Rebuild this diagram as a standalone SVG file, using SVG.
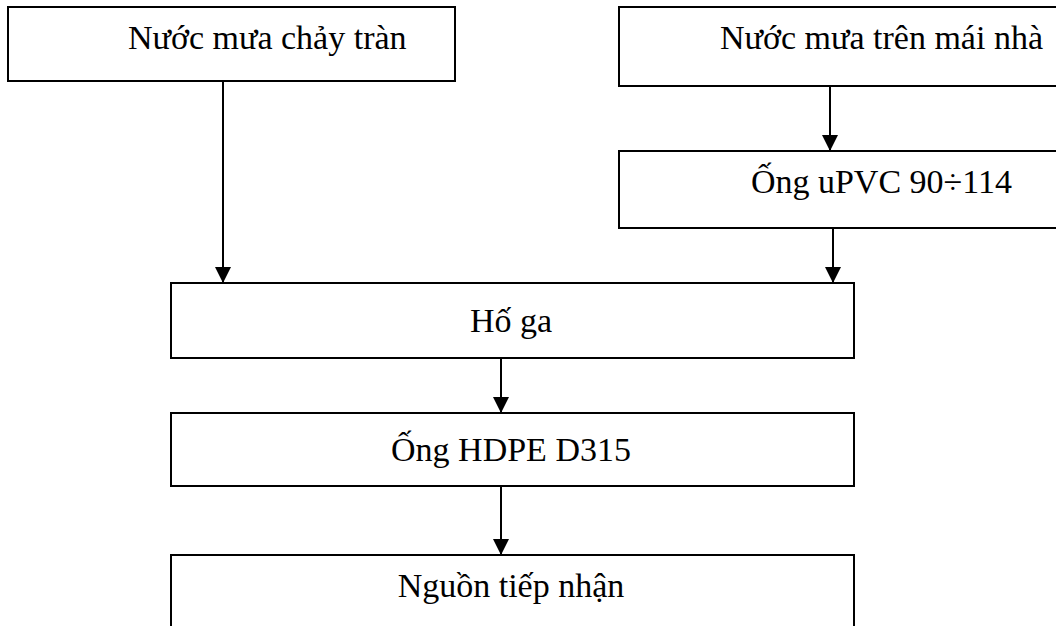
<svg xmlns="http://www.w3.org/2000/svg" width="1056" height="626" viewBox="0 0 1056 626">
  <style>
    .box { fill: #ffffff; stroke: #000000; stroke-width: 2; }
    .lbl { font-family: "Liberation Serif", "Times New Roman", serif; font-size: 34px; fill: #000000; }
    .mid { text-anchor: middle; }
    .end { text-anchor: end; }
    .conn { stroke: #000000; stroke-width: 2; fill: none; marker-end: url(#arrow); }
  </style>
  <defs>
    <marker id="arrow" viewBox="0 0 10 10" refX="10" refY="5" markerWidth="16" markerHeight="16" markerUnits="userSpaceOnUse" orient="auto">
      <path d="M0,0 L10,5 L0,10 z" fill="#000000"/>
    </marker>
  </defs>
  <rect width="1056" height="626" fill="#ffffff"/>

  <g id="connectors">
    <line class="conn" x1="223" y1="81" x2="223" y2="283"/>
    <line class="conn" x1="830" y1="86" x2="830" y2="151"/>
    <line class="conn" x1="833" y1="228" x2="833" y2="283"/>
    <line class="conn" x1="501" y1="358" x2="501" y2="413"/>
    <line class="conn" x1="501" y1="486" x2="501" y2="555"/>
  </g>

  <g id="nuoc-mua-chay-tran">
    <rect class="box" x="8" y="7" width="447" height="74"/>
    <text class="lbl" x="128" y="49">Nước mưa chảy tràn</text>
  </g>

  <g id="nuoc-mua-mai-nha">
    <rect class="box" x="619" y="7" width="530" height="79"/>
    <text class="lbl end" x="1043" y="49">Nước mưa trên mái nhà</text>
  </g>

  <g id="ong-upvc">
    <rect class="box" x="619" y="151" width="530" height="77"/>
    <text class="lbl end" x="1012" y="193">Ống uPVC 90÷114</text>
  </g>

  <g id="ho-ga">
    <rect class="box" x="171" y="283" width="683" height="75"/>
    <text class="lbl mid" x="511" y="332">Hố ga</text>
  </g>

  <g id="ong-hdpe">
    <rect class="box" x="171" y="413" width="683" height="73"/>
    <text class="lbl mid" x="511" y="461">Ống HDPE D315</text>
  </g>

  <g id="nguon-tiep-nhan">
    <rect class="box" x="171" y="555" width="683" height="100"/>
    <text class="lbl mid" x="511" y="597">Nguồn tiếp nhận</text>
  </g>
</svg>
